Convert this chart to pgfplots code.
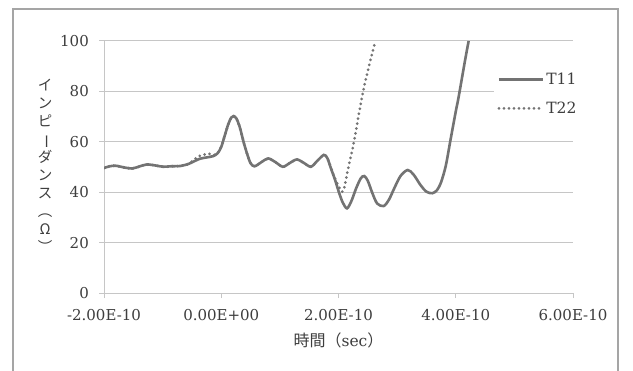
\documentclass[border=0pt]{standalone}
\usepackage{fontspec}
\usepackage{graphicx}
\usepackage{pgfplots}
\pgfplotsset{compat=1.18}
\usepackage{pgfplotstable}

\setmainfont{DejaVu Serif}
\newfontfamily\numfont{DejaVu Serif}
\newfontfamily\cjk{Noto Sans CJK JP}

\definecolor{curve}{RGB}{115,115,115}
\definecolor{gridc}{RGB}{198,198,198}
\definecolor{framec}{RGB}{165,165,165}
\definecolor{txt}{RGB}{62,62,62}

% impedance profile, port 1 (time in s, impedance in ohm)
\pgfplotstableread{
t z
-2.00e-10 49.6
-1.90e-10 50.3
-1.80e-10 50.5
-1.65e-10 49.8
-1.52e-10 49.4
-1.40e-10 50.2
-1.27e-10 51.0
-1.12e-10 50.6
-0.99e-10 50.1
-0.85e-10 50.3
-0.70e-10 50.4
-0.56e-10 51.2
-0.45e-10 52.4
-0.36e-10 53.3
-0.25e-10 53.8
-0.14e-10 54.3
-0.06e-10 55.5
0.00 58.0
0.06e-10 62.5
0.12e-10 67.0
0.17e-10 69.6
0.21e-10 70.2
0.26e-10 69.2
0.32e-10 65.5
0.38e-10 60.0
0.44e-10 55.3
0.50e-10 51.5
0.57e-10 50.3
0.69e-10 52.0
0.80e-10 53.4
0.92e-10 52.0
1.05e-10 50.1
1.17e-10 51.6
1.29e-10 53.0
1.41e-10 51.6
1.53e-10 50.1
1.64e-10 52.5
1.75e-10 54.8
1.81e-10 53.5
1.87e-10 49.5
1.94e-10 45.0
2.00e-10 40.5
2.07e-10 36.0
2.145e-10 33.6
2.22e-10 36.5
2.30e-10 41.5
2.38e-10 45.5
2.44e-10 46.4
2.50e-10 44.5
2.58e-10 39.5
2.66e-10 35.5
2.77e-10 34.5
2.86e-10 37.0
2.96e-10 42.0
3.06e-10 46.5
3.18e-10 48.8
3.28e-10 47.0
3.40e-10 42.8
3.50e-10 40.2
3.60e-10 39.6
3.68e-10 40.8
3.75e-10 44.0
3.83e-10 50.5
3.91e-10 60.7
4.00e-10 72.0
4.05e-10 77.9
4.16e-10 92.5
4.22e-10 100.0
}\tone

% impedance profile, port 2
\pgfplotstableread{
t z
-2.00e-10 49.6
-1.90e-10 50.3
-1.80e-10 50.5
-1.65e-10 49.8
-1.52e-10 49.4
-1.40e-10 50.2
-1.27e-10 51.0
-1.12e-10 50.6
-0.99e-10 50.1
-0.85e-10 50.3
-0.70e-10 50.4
-0.56e-10 51.2
-0.45e-10 53.2
-0.36e-10 54.5
-0.28e-10 55.0
-0.20e-10 55.2
-0.12e-10 54.8
-0.06e-10 55.6
0.00 58.0
0.06e-10 62.5
0.12e-10 67.0
0.17e-10 69.6
0.21e-10 70.2
0.26e-10 69.2
0.32e-10 65.5
0.38e-10 60.0
0.44e-10 55.3
0.50e-10 51.5
0.57e-10 50.3
0.69e-10 52.0
0.80e-10 53.4
0.92e-10 52.0
1.05e-10 50.1
1.17e-10 51.6
1.29e-10 53.0
1.41e-10 51.6
1.53e-10 50.1
1.64e-10 52.5
1.75e-10 54.8
1.81e-10 53.5
1.87e-10 49.8
1.94e-10 45.5
2.01e-10 42.0
2.08e-10 40.5
2.17e-10 50.0
2.26e-10 59.5
2.34e-10 70.0
2.42e-10 80.0
2.53e-10 91.0
2.63e-10 100.0
}\ttwo

\begin{document}
\begin{tikzpicture}[x=1bp,y=1bp]
\useasboundingbox (0,0) rectangle (633,370);
\clip (0,0) rectangle (633,370);
\fill[white] (0,0) rectangle (633,370);
\draw[framec, line width=1.6bp] (13,-20) rectangle (618,361);

% vertical axis title, set top to bottom
\node[text=txt, inner sep=0, align=center,
      font=\cjk\fontsize{14.5bp}{18bp}\selectfont] at (45,204)
  {イ\\ン\\ピ\\\rotatebox[origin=c]{-90}{ー}\\ダ\\ン\\ス\\︵\\Ω\\︶};

\begin{axis}[
  at={(104bp,77bp)}, anchor=south west,
  scale only axis, width=469bp, height=252bp,
  xmin=-2e-10, xmax=6e-10, ymin=0, ymax=100,
  axis lines=left, axis line style={gridc, line width=1bp, -},
  scaled x ticks=false,
  xtick={-2e-10,0,2e-10,4e-10,6e-10},
  xticklabels={-2.00E-10,0.00E+00,2.00E-10,4.00E-10,6.00E-10},
  ytick={0,20,40,60,80,100},
  ymajorgrids, grid style={gridc, line width=1bp},
  tick align=outside, major tick length=5bp,
  tick style={gridc, line width=1bp},
  /pgf/number format/assume math mode=true,
  xticklabel style={anchor=center, yshift=-17bp, inner sep=0, text=txt,
    font=\numfont\fontsize{15bp}{18bp}\selectfont},
  yticklabel style={anchor=east, inner sep=0, xshift=-10bp, text=txt,
    font=\numfont\fontsize{15bp}{18bp}\selectfont},
  xlabel={{\cjk\fontsize{16bp}{18bp}\selectfont 時間（}sec{\cjk\fontsize{16bp}{18bp}\selectfont ）}},
  xlabel style={at={(rel axis cs:0.5,0)}, anchor=center, yshift=-47bp,
    text=txt, inner sep=0, font=\numfont\fontsize{15.5bp}{18bp}\selectfont},
  legend cell align=left,
  legend image code/.code={\draw[#1] (0bp,0bp) -- (44bp,0bp);},
  legend style={at={(rel axis cs:0.832,0.89)}, anchor=north west,
    draw=none, fill=white, text=txt, row sep=12bp,
    font=\numfont\fontsize{15.5bp}{18bp}\selectfont},
]
\addplot[curve, line width=2.6bp, smooth] table[x=t, y=z] {\tone};
\addlegendentry{T11}
\addplot[curve, line width=3bp, line cap=round, dash pattern=on 0bp off 5bp, smooth] table[x=t, y=z] {\ttwo};
\addlegendentry{T22}
\end{axis}
\end{tikzpicture}
\end{document}
